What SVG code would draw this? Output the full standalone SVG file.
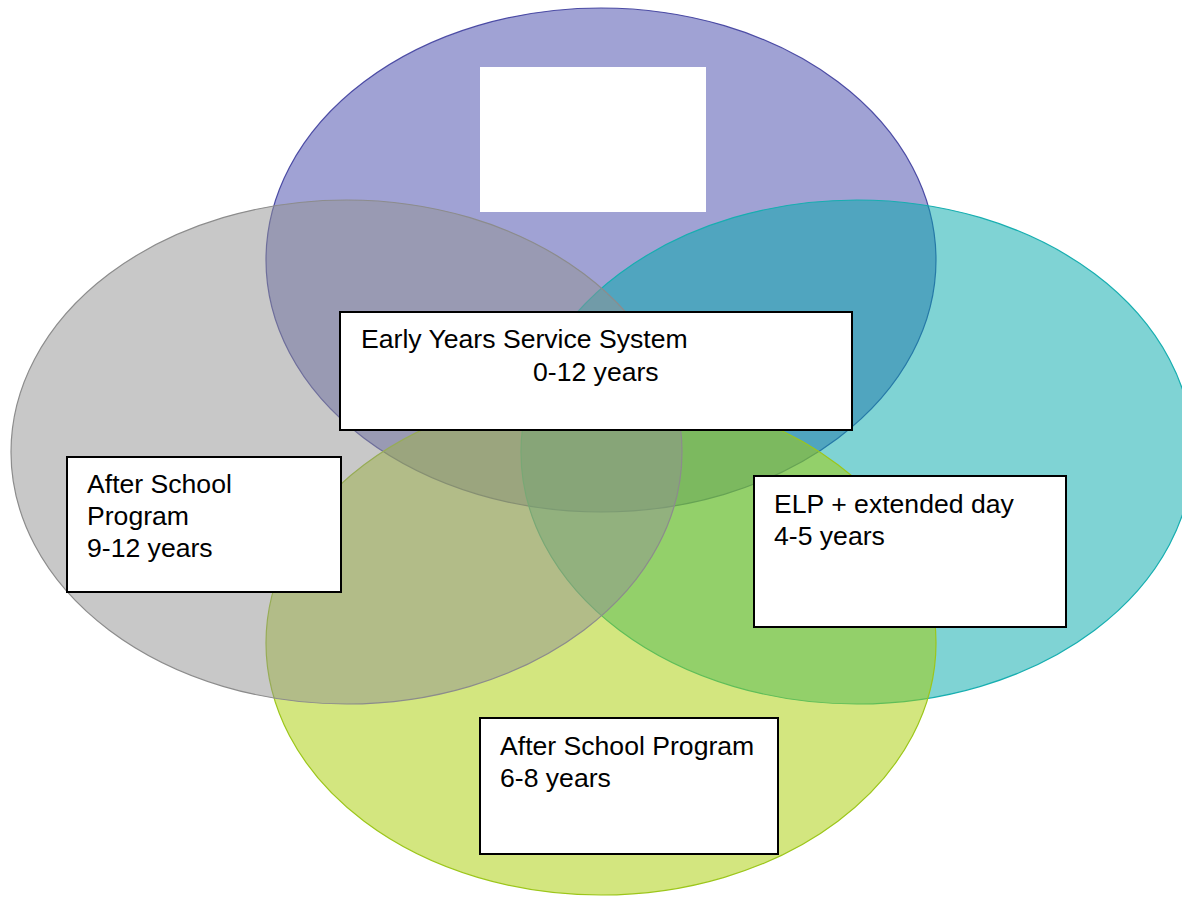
<svg xmlns="http://www.w3.org/2000/svg" width="1182" height="897" viewBox="0 0 1182 897">
  <style>
    .ell { fill-opacity: 0.5; stroke-width: 1.2; }
    .box { fill: #ffffff; stroke: #000000; stroke-width: 2; }
    .lbl { font-family: "Liberation Sans", Arial, sans-serif; font-size: 26.6px; fill: #000000; }
  </style>
  <rect x="0" y="0" width="1182" height="897" fill="#ffffff"/>
  <g id="ellipse-top">
    <ellipse class="ell" cx="601" cy="260" rx="335" ry="252" fill="#4145A9" stroke="#3C3C9C" stroke-opacity="0.9"/>
  </g>
  <g id="ellipse-right">
    <ellipse class="ell" cx="857" cy="452" rx="336" ry="252" fill="#00A7A9" stroke="#17AEB0"/>
  </g>
  <g id="ellipse-bottom">
    <ellipse class="ell" cx="601" cy="643" rx="335" ry="252" fill="#A7CD00" stroke="#9CC61A"/>
  </g>
  <g id="ellipse-left">
    <ellipse class="ell" cx="346.5" cy="452" rx="335.5" ry="252" fill="#919191" stroke="#8C8C8C"/>
  </g>
  <g id="node-top-blank">
    <rect x="480" y="67" width="226" height="145" fill="#ffffff"/>
  </g>
  <g id="node-center">
    <rect class="box" x="340" y="312" width="512" height="118"/>
    <text class="lbl" x="361" y="348">Early Years Service System</text>
    <text class="lbl" x="533" y="381">0-12 years</text>
  </g>
  <g id="node-left">
    <rect class="box" x="67" y="457" width="274" height="135"/>
    <text class="lbl" x="87" y="493">After School</text>
    <text class="lbl" x="87" y="525">Program</text>
    <text class="lbl" x="87" y="557">9-12 years</text>
  </g>
  <g id="node-right">
    <rect class="box" x="754" y="476" width="312" height="151"/>
    <text class="lbl" x="774" y="513">ELP + extended day</text>
    <text class="lbl" x="774" y="545">4-5 years</text>
  </g>
  <g id="node-bottom">
    <rect class="box" x="480" y="718" width="298" height="136"/>
    <text class="lbl" x="500" y="755">After School Program</text>
    <text class="lbl" x="500" y="787">6-8 years</text>
  </g>
  <g id="connectors"></g>
</svg>
